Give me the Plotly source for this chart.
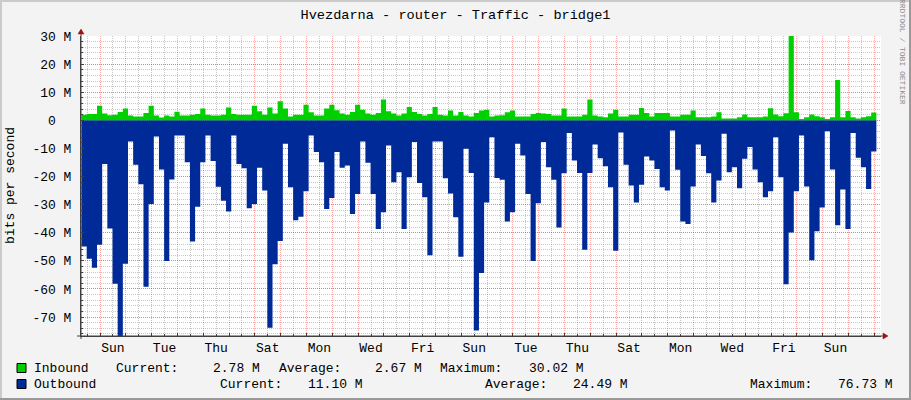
import plotly.graph_objects as go

# ---------------- data (Mbit/s, one value per 4.8 h step) ----------------
INBOUND = [
    2.0, 2.3, 2.3, 5.2, 2.4, 1.8, 2.0, 3.0, 4.2, 1.7,
    1.4, 1.4, 2.6, 5.2, 1.7, 1.0, 1.7, 1.4, 3.1, 1.7,
    1.7, 2.0, 2.3, 4.2, 2.0, 1.7, 1.7, 2.0, 4.6, 2.3,
    2.0, 2.0, 2.0, 5.2, 3.2, 2.0, 4.6, 2.4, 6.8, 4.2,
    1.4, 2.0, 2.0, 5.6, 2.9, 1.7, 1.7, 4.2, 5.6, 3.6,
    2.4, 2.0, 3.0, 5.6, 3.8, 2.4, 2.0, 2.6, 7.4, 3.2,
    2.4, 1.7, 2.4, 4.8, 3.0, 2.3, 1.7, 2.3, 4.8, 2.0,
    1.7, 3.5, 1.7, 3.0, 1.7, 1.4, 2.6, 3.5, 3.8, 1.4,
    1.7, 1.8, 2.9, 3.5, 1.4, 1.4, 1.4, 2.3, 2.6, 2.4,
    2.3, 1.7, 1.7, 4.2, 1.4, 1.4, 1.4, 2.0, 7.4, 1.7,
    1.4, 1.1, 2.4, 3.8, 1.4, 1.4, 2.0, 2.0, 4.4, 2.6,
    1.4, 2.6, 2.6, 2.6, 1.4, 1.4, 2.0, 2.0, 3.5, 1.1,
    1.1, 1.1, 1.4, 2.9, 0.7, 0.7, 0.7, 1.1, 2.1, 1.1,
    1.1, 1.1, 1.4, 4.3, 2.1, 1.5, 2.5, 30.02, 2.9, 0.5,
    1.1, 2.1, 1.5, 1.1, 0.5, 1.1, 14.4, 1.1, 3.3, 1.1,
    0.7, 1.1, 1.5, 2.78,
]
OUTBOUND = [
    -44.9, -49.2, -52.4, -44.3, -15.5, -38.5, -58.1, -76.73, -51.0, -7.5,
    -15.8, -22.7, -59.2, -29.8, -5.7, -17.5, -50.0, -21.0, -5.4, -5.4,
    -14.9, -43.1, -30.7, -14.9, -5.4, -14.5, -23.6, -28.6, -32.4, -5.4,
    -15.5, -17.0, -31.3, -29.8, -16.9, -25.0, -73.8, -51.2, -42.9, -8.3,
    -23.8, -35.5, -34.3, -25.2, -5.4, -11.3, -14.9, -31.5, -27.6, -11.3,
    -16.9, -16.1, -33.3, -26.2, -7.5, -15.1, -26.2, -38.7, -32.7, -8.9,
    -22.0, -18.5, -38.7, -20.2, -7.7, -22.3, -27.4, -48.0, -7.5, -7.5,
    -20.6, -26.0, -34.5, -48.5, -10.1, -18.7, -74.8, -54.3, -29.2, -6.0,
    -20.5, -21.1, -36.0, -32.7, -8.3, -12.5, -26.2, -50.0, -29.5, -7.7,
    -16.7, -21.1, -38.1, -18.8, -4.5, -14.3, -18.7, -46.0, -18.7, -8.6,
    -13.5, -16.3, -23.8, -46.4, -4.3, -15.8, -23.2, -29.2, -22.9, -12.9,
    -14.3, -17.3, -23.8, -25.0, -3.6, -17.6, -36.0, -36.9, -23.5, -8.6,
    -12.7, -18.8, -29.2, -21.4, -4.8, -18.5, -16.7, -24.2, -13.7, -9.5,
    -17.5, -22.0, -27.4, -25.2, -6.0, -20.2, -58.3, -39.9, -25.2, -5.4,
    -23.5, -49.8, -39.5, -31.0, -3.9, -17.5, -37.3, -24.6, -38.7, -4.5,
    -13.3, -16.7, -24.4, -11.1,
]
STEP_H = 4.8          # hours per consolidated step
START_H = 0.5         # first step start (hours from graph start)
RANGE_H = 744.0       # graph span in hours
MIDNIGHT0_H = 17.7    # first midnight (hours from graph start)
DAY_LABELS = ["Sun", "Tue", "Thu", "Sat", "Mon", "Wed", "Fri", "Sun",
              "Tue", "Thu", "Sat", "Mon", "Wed", "Fri", "Sun"]
Y_TICKS = [30, 20, 10, 0, -10, -20, -30, -40, -50, -60, -70]
Y_TICKTEXT = ["30 M", "20 M", "10 M", "0\u00a0\u00a0", "-10 M", "-20 M", "-30 M",
              "-40 M", "-50 M", "-60 M", "-70 M"]
Y_RANGE = [-76.73, 30.02]
SERIES_NAMES = ["Inbound", "Outbound"]
SERIES_COLORS = ["#00CF00", "#002A97"]
CURRENT = ["2.78 M", "11.10 M"]
AVERAGE = ["2.67 M", "24.49 M"]
MAXIMUM = ["30.02 M", "76.73 M"]
TITLE = "Hvezdarna - router - Traffic - bridge1"

# ---------------- geometry helpers ----------------
W, H = 911, 400
L, R, T, B = 81, 881, 36, 336
PW, PH = R - L, B - T
FONT = "Liberation Mono, DejaVu Sans Mono, monospace"


def px(xpix):
    return (xpix - L) / PW


def py(ypix):
    return (B - ypix) / PH


def steps(vals):
    xs = [START_H + STEP_H * i for i in range(len(vals) + 1)]
    ys = list(vals) + [vals[-1]]
    return xs, ys


fig = go.Figure()
for name, vals, col, xa in [(SERIES_NAMES[0], INBOUND, SERIES_COLORS[0], "x2"),
                            (SERIES_NAMES[1], OUTBOUND, SERIES_COLORS[1], "x")]:
    xs, ys = steps(vals)
    fig.add_trace(go.Scatter(x=xs, y=ys, mode="lines", line=dict(shape="hv", width=0, color=col),
                             fill="tozeroy", fillcolor=col, name=name, showlegend=False,
                             xaxis=xa, hoverinfo="skip"))

major_grid = "rgba(255,0,0,0.33)"
minor_grid = "rgba(110,110,110,0.38)"
axis_col = "#404040"
n_mid = int((RANGE_H - MIDNIGHT0_H) // 24) + 1

fig.update_layout(
    width=W, height=H, autosize=False,
    margin=dict(l=L, r=W - R, t=T, b=H - B, pad=0),
    paper_bgcolor="#F3F3F3", plot_bgcolor="#FFFFFF",
    font=dict(family=FONT, size=13, color="#000000"),
    title=dict(text=TITLE, x=455.5 / W, xref="container", xanchor="center",
               y=1 - 14 / H, yref="container", yanchor="middle",
               font=dict(family=FONT, size=13.6, color="#000000")),
    xaxis=dict(range=[0, RANGE_H], showgrid=True, gridcolor=major_grid, griddash="1px,1px",
               gridwidth=1, tickmode="array",
               tickvals=[MIDNIGHT0_H + 24 * i for i in range(n_mid)],
               showticklabels=False, ticks="inside", ticklen=3, tickcolor=axis_col,
               minor=dict(tickmode="array",
                          tickvals=[MIDNIGHT0_H - 12 + 24 * i for i in range(n_mid + 1)],
                          showgrid=True, gridcolor=minor_grid, griddash="1px,1px",
                          ticks="inside", ticklen=2, tickcolor=axis_col),
               showline=True, linecolor=axis_col, linewidth=1, zeroline=False,
               fixedrange=True),
    xaxis2=dict(range=[0, RANGE_H], overlaying="x", anchor="y", side="bottom",
                tickmode="array",
                tickvals=[MIDNIGHT0_H + 12 + 48 * i for i in range(len(DAY_LABELS))],
                ticktext=DAY_LABELS, showgrid=False, zeroline=False, showline=False,
                ticks="", ticklabelstandoff=2, fixedrange=True,
                tickfont=dict(family=FONT, size=13, color="#000000")),
    yaxis=dict(range=Y_RANGE, tickmode="array", tickvals=Y_TICKS, ticktext=Y_TICKTEXT,
               showgrid=True, gridcolor=major_grid, griddash="1px,1px", gridwidth=1,
               ticks="inside", ticklen=3, tickcolor=axis_col,
               minor=dict(tick0=0, dtick=2, showgrid=True, gridcolor=minor_grid,
                          griddash="1px,1px", ticks="inside", ticklen=2, tickcolor=axis_col),
               showline=True, linecolor=axis_col, linewidth=1, zeroline=False,
               fixedrange=True,
               ticklabelstandoff=6, tickfont=dict(family=FONT, size=13, color="#000000")),
)

shapes = []
# 3D border
shapes += [
    dict(type="rect", xref="paper", yref="paper", x0=px(0), x1=px(W), y0=py(2), y1=py(0),
         fillcolor="#CBCBCB", line=dict(width=0)),
    dict(type="rect", xref="paper", yref="paper", x0=px(0), x1=px(2), y0=py(H), y1=py(0),
         fillcolor="#CBCBCB", line=dict(width=0)),
    dict(type="rect", xref="paper", yref="paper", x0=px(0), x1=px(W), y0=py(H), y1=py(H - 2),
         fillcolor="#999999", line=dict(width=0)),
    dict(type="rect", xref="paper", yref="paper", x0=px(W - 2), x1=px(W), y0=py(H), y1=py(0),
         fillcolor="#999999", line=dict(width=0)),
]
# axis extensions and arrows
shapes += [
    dict(type="line", xref="paper", yref="paper", x0=0, x1=0, y0=py(B + 3), y1=py(T - 3),
         line=dict(color=axis_col, width=1)),
    dict(type="line", xref="paper", yref="paper", x0=px(L - 4), x1=px(R + 4), y0=0, y1=0,
         line=dict(color=axis_col, width=1)),
    dict(type="path", xref="paper", yref="paper",
         path=f"M {px(L - 3)},{py(T - 2)} L {px(L + 3)},{py(T - 2)} L {px(L)},{py(T - 7)} Z",
         fillcolor="#A01010", line=dict(color="#A01010", width=0.5)),
    dict(type="path", xref="paper", yref="paper",
         path=f"M {px(R + 2)},{py(B - 3)} L {px(R + 2)},{py(B + 3)} L {px(R + 7)},{py(B)} Z",
         fillcolor="#A01010", line=dict(color="#A01010", width=0.5)),
]
# legend boxes
for i, col in enumerate(SERIES_COLORS):
    yc = 368 + 16 * i
    shapes.append(dict(type="rect", xref="paper", yref="paper",
                       x0=px(17), x1=px(26), y0=py(yc + 4.5), y1=py(yc - 4.5),
                       fillcolor=col, line=dict(color="#000000", width=1)))
fig.update_layout(shapes=shapes)

ann = []


def text(t, xpix, ypix, anchor="left", size=13, color="#000000", angle=0):
    ann.append(dict(text=t, xref="paper", yref="paper", x=px(xpix), y=py(ypix),
                    xanchor=anchor, yanchor="middle", showarrow=False, borderpad=0,
                    borderwidth=0, textangle=angle,
                    font=dict(family=FONT, size=size, color=color)))


text("bits per second", 10, 186, anchor="center", angle=-90)
text("RRDTOOL / TOBI OETIKER", 903, 52, anchor="center", size=8, color="#8C8C8C", angle=90)

legend_cols = [
    dict(name=34, cur=116, curv=260, avg=279, avgv=422, mx=440, mxv=584),
    dict(name=34, cur=220, curv=363, avg=485, avgv=628, mx=750, mxv=893),
]
for i, c in enumerate(legend_cols):
    yc = 368 + 16 * i
    text(SERIES_NAMES[i], c["name"], yc)
    text("Current:", c["cur"], yc)
    text(CURRENT[i], c["curv"], yc, anchor="right")
    text("Average:", c["avg"], yc)
    text(AVERAGE[i], c["avgv"], yc, anchor="right")
    text("Maximum:", c["mx"], yc)
    text(MAXIMUM[i], c["mxv"], yc, anchor="right")
fig.update_layout(annotations=ann)

fig.write_html("out.html", config={"displayModeBar": False, "staticPlot": True},
               post_script="document.body.style.margin='0';document.body.style.overflow='hidden';")
